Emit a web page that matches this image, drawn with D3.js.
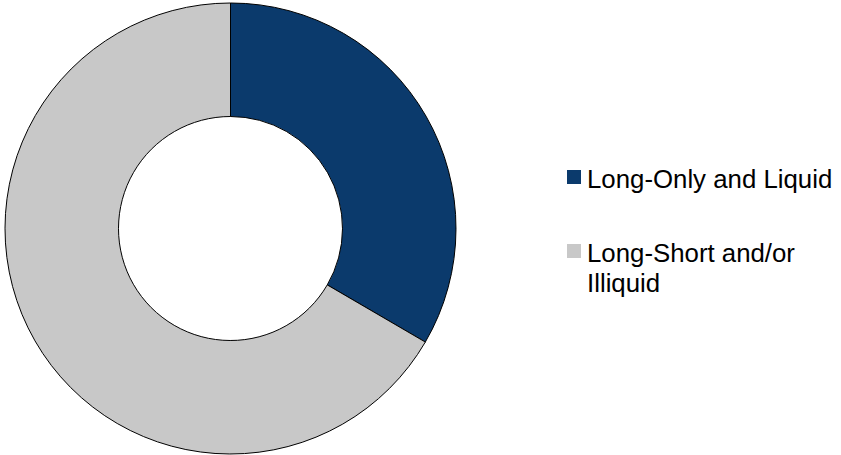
<!DOCTYPE html>
<html>
<head>
<meta charset="utf-8">
<script src="https://cdn.jsdelivr.net/npm/d3@7"></script>
<style>
  html, body { margin: 0; padding: 0; background: #fff; }
  svg { display: block; }
</style>
</head>
<body>
<svg id="chart" width="841" height="455"></svg>
<script>
// Portfolio split by strategy type
const categories = ["Long-Only and Liquid", "Long-Short and/or Illiquid"];
const values = [33.4, 66.6];
const legendLines = [["Long-Only and Liquid"], ["Long-Short and/or", "Illiquid"]];
const colors = ["#0b3a6c", "#c8c8c8"];

const svg = d3.select("#chart");
const cx = 230.5, cy = 228.5, outerR = 225.5, innerR = 112;

const color = d3.scaleOrdinal().domain(categories).range(colors);

const pie = d3.pie().sort(null).value(d => d.value);
const arc = d3.arc().innerRadius(innerR).outerRadius(outerR);

const data = categories.map((c, i) => ({ name: c, value: values[i] }));

svg.append("g")
  .attr("transform", `translate(${cx},${cy})`)
  .selectAll("path")
  .data(pie(data))
  .join("path")
  .attr("d", arc)
  .attr("fill", d => color(d.data.name))
  .attr("stroke", "#000")
  .attr("stroke-width", 1);

// Legend
const legend = svg.append("g").attr("font-family", "Arial, 'Liberation Sans', sans-serif")
  .attr("font-size", 25.8).attr("fill", "#000");

const itemY = [188, 262];
categories.forEach((c, i) => {
  const g = legend.append("g");
  g.append("rect")
    .attr("x", 567).attr("y", itemY[i] - 18)
    .attr("width", 14).attr("height", 14)
    .attr("fill", color(c));
  const t = g.append("text").attr("x", 587).attr("y", itemY[i]);
  legendLines[i].forEach((line, j) => {
    t.append("tspan").attr("x", 587).attr("dy", j === 0 ? 0 : 30).text(line);
  });
});
</script>
</body>
</html>
